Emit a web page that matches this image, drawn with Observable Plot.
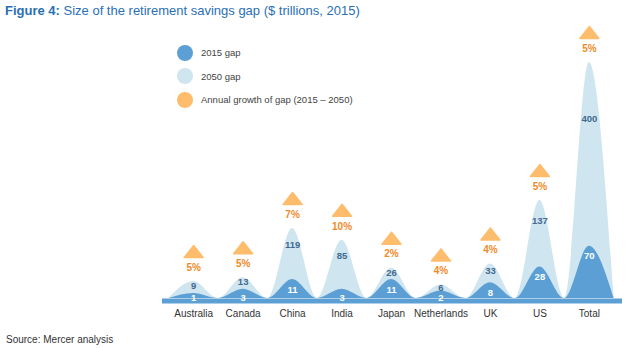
<!DOCTYPE html>
<html><head><meta charset="utf-8">
<script src="https://cdn.jsdelivr.net/npm/d3@7"></script>
<script src="https://cdn.jsdelivr.net/npm/@observablehq/plot@0.6"></script>
<style>
body{margin:0;background:#fff;font-family:"Liberation Sans",Arial,Helvetica,sans-serif;}
#wrap{position:relative;width:630px;height:348px;overflow:hidden;background:#fff;}
#title{position:absolute;left:5px;top:3px;font-size:13px;color:#2a6fb5;white-space:nowrap;}
#title b{font-weight:bold;}
#legend{position:absolute;left:177px;top:41px;font-size:9.5px;color:#444;}
.li{display:flex;align-items:center;height:23.5px;}
.sw{width:16px;height:16px;border-radius:50%;margin-right:8px;flex:none;}
#source{position:absolute;left:6px;top:334px;font-size:10px;color:#333;white-space:nowrap;}
#chart{position:absolute;left:0;top:0;}
</style></head>
<body>
<div id="wrap">
  <div id="chart"></div>
  <div id="title"><b>Figure 4:</b> Size of the retirement savings gap ($ trillions, 2015)</div>
  <div id="legend"></div>
  <div id="source">Source: Mercer analysis</div>
</div>
<script>
const categories = ["Australia","Canada","China","India","Japan","Netherlands","UK","US","Total"];
const gap2015 = [1,3,11,3,11,2,8,28,70];
const gap2050 = [9,13,119,85,26,6,33,137,400];
const growth = ["5%","5%","7%","10%","2%","4%","4%","5%","5%"];
const legendLabels = ["2015 gap","2050 gap","Annual growth of gap (2015 \u2013 2050)"];

const DARK = "#5c9fd5", LIGHT = "#cfe5ef", ORANGE = "#fdbd6c", ORANGE_TXT = "#f08a28", VAL_TXT = "#42698f";
const W = 630, H = 348, MB = 50;
const y0 = H - MB;
const yScale = {type: "pow", exponent: 0.55, domain: [0, 119, 137, 400], range: [y0, y0 - 70, y0 - 98, y0 - 236]};
const ys = Plot.scale({y: yScale});
const base = ys.apply(0) + 5;

const rows = categories.map((c, i) => {
  const p50 = ys.apply(gap2050[i]), p15 = ys.apply(gap2015[i]);
  return {c, i, a: gap2015[i], b: gap2050[i], g: growth[i],
    yb: ys.invert(p50 + 0.3 * (p15 - p50) + 1),
    ya: ys.invert(Math.min(base - 5.5, p15 + 10))};
});

const pts = [{x: -0.5, a: 0, b: 0}];
categories.forEach((c, i) => {
  pts.push({x: i, a: gap2015[i], b: gap2050[i]});
  pts.push({x: i + 0.5, a: 0, b: 0});
});

const tri = {draw(ctx) { ctx.moveTo(0, -6); ctx.lineTo(9.5, 6); ctx.lineTo(-9.5, 6); ctx.closePath(); }};

const chart = Plot.plot({
  width: W, height: H, marginLeft: 162, marginRight: 8, marginTop: 20, marginBottom: MB,
  x: {type: "linear", domain: [-0.63, 8.67], axis: null},
  y: {...yScale, axis: null},
  style: {fontFamily: '"Liberation Sans", Arial, Helvetica, sans-serif', background: "transparent"},
  marks: [
    Plot.areaY(pts, {x: "x", y: "b", fill: LIGHT, curve: "monotone-x"}),
    Plot.areaY(pts, {x: "x", y: "a", fill: DARK, curve: "monotone-x"}),
    Plot.ruleY([0], {stroke: DARK, strokeWidth: 5, dy: 2.5}),
    Plot.axisX(categories.map((c, i) => i), {tickFormat: i => categories[i], tickSize: 0, tickPadding: 11, fontSize: 10, fill: "#333"}),
    Plot.text(rows, {x: "i", y: "yb", text: d => String(d.b), fill: VAL_TXT, fontWeight: "bold", fontSize: 9.5}),
    Plot.text(rows, {x: "i", y: "ya", text: d => String(d.a), fill: "white", fontWeight: "bold", fontSize: 9.5}),
    Plot.dot(rows, {x: "i", y: "b", dy: -30, symbol: tri, fill: ORANGE, stroke: ORANGE, strokeWidth: 1.5, strokeLinejoin: "round", r: 6}),
    Plot.text(rows, {x: "i", y: "b", dy: -14, text: "g", fill: ORANGE_TXT, fontWeight: "bold", fontSize: 10})
  ]
});
document.getElementById("chart").appendChild(chart);

const legendColors = [DARK, LIGHT, ORANGE];
const lg = document.getElementById("legend");
legendLabels.forEach((t, k) => {
  const row = document.createElement("div"); row.className = "li";
  const sw = document.createElement("span"); sw.className = "sw"; sw.style.background = legendColors[k];
  const tx = document.createElement("span"); tx.textContent = t;
  row.appendChild(sw); row.appendChild(tx); lg.appendChild(row);
});
</script>
</body></html>
